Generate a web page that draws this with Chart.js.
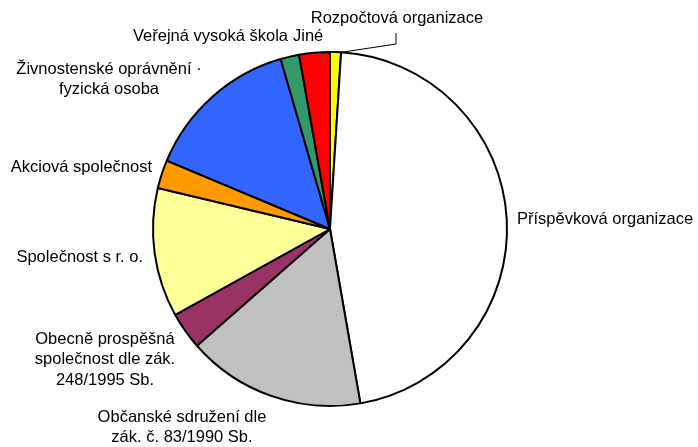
<!DOCTYPE html>
<html>
<head>
<meta charset="utf-8">
<script src="https://cdn.jsdelivr.net/npm/chart.js@4.4.0/dist/chart.umd.min.js"></script>
<style>
  body { margin: 0; background: #fff; }
  #graf { display: block; }
</style>
</head>
<body>
<canvas id="graf" width="698" height="447"></canvas>
<script>
// kategorie (po směru hodinových ručiček od 12 hodin)
const kategorie = [
    "Rozpočtová organizace",
    "Příspěvková organizace",
    "Občanské sdružení dle zák. č. 83/1990 Sb.",
    "Obecně prospěšná společnost dle zák. 248/1995 Sb.",
    "Společnost s r. o.",
    "Akciová společnost",
    "Živnostenské oprávnění · fyzická osoba",
    "Veřejná vysoká škola",
    "Jiné"
];
// podíly v procentech
const podily = [1.0, 46.3, 16.3, 3.4, 11.8, 2.6, 14.2, 1.7, 2.8];
const barvy = ["#FFFF00", "#FFFFFF", "#C0C0C0", "#993366", "#FFFF99", "#FF9900", "#3366FF", "#339966", "#FF0000"];

// popisky: řádky textu + umístění
const popisky = [
    { lines: ["Rozpočtová organizace"], x: 397, y: 18, align: "center", leader: true },
    { lines: ["Příspěvková organizace"], x: 517, y: 219, align: "left" },
    { lines: ["Občanské sdružení dle", "zák. č. 83/1990 Sb."], x: 182, y: 417, align: "center" },
    { lines: ["Obecně prospěšná", "společnost dle zák.", "248/1995 Sb."], x: 105, y: 339, align: "center" },
    { lines: ["Společnost s r. o."], x: 143, y: 257, align: "right" },
    { lines: ["Akciová společnost"], x: 152, y: 167, align: "right" },
    { lines: ["Živnostenské oprávnění ·", "fyzická osoba"], x: 109, y: 69, align: "center" },
    { lines: ["Veřejná vysoká škola"], x: 288, y: 36, align: "right" },
    { lines: ["Jiné"], x: 293, y: 36, align: "left" }
];

const popiskyPlugin = {
    id: "popisky",
    afterDraw(chart) {
        const c = chart.ctx;
        const arcs = chart.getDatasetMeta(0).data;
        c.save();
        c.font = "16.5px 'Liberation Sans', Arial, sans-serif";
        c.fillStyle = "#000";
        c.textBaseline = "middle";
        popisky.forEach((p, i) => {
            c.textAlign = p.align;
            p.lines.forEach((t, j) => c.fillText(t, p.x, p.y + j * 20.7));
            if (p.leader) {
                const a = arcs[i];
                const ang = a.endAngle;
                const sx = a.x + Math.cos(ang) * a.outerRadius;
                const sy = a.y + Math.sin(ang) * a.outerRadius;
                c.strokeStyle = "#000";
                c.lineWidth = 1;
                c.beginPath();
                c.moveTo(sx, sy);
                c.lineTo(p.x - 1, 44);
                c.lineTo(p.x - 1, 33);
                c.stroke();
            }
        });
        c.restore();
    }
};

new Chart(document.getElementById("graf"), {
    type: "pie",
    data: {
        labels: kategorie,
        datasets: [{
            data: podily,
            backgroundColor: barvy,
            borderColor: "#000",
            borderWidth: 2
        }]
    },
    options: {
        responsive: false,
        animation: false,
        layout: { padding: { left: 152, right: 190, top: 51, bottom: 40 } },
        plugins: {
            legend: { display: false },
            tooltip: { enabled: false }
        }
    },
    plugins: [popiskyPlugin]
});
</script>
</body>
</html>
